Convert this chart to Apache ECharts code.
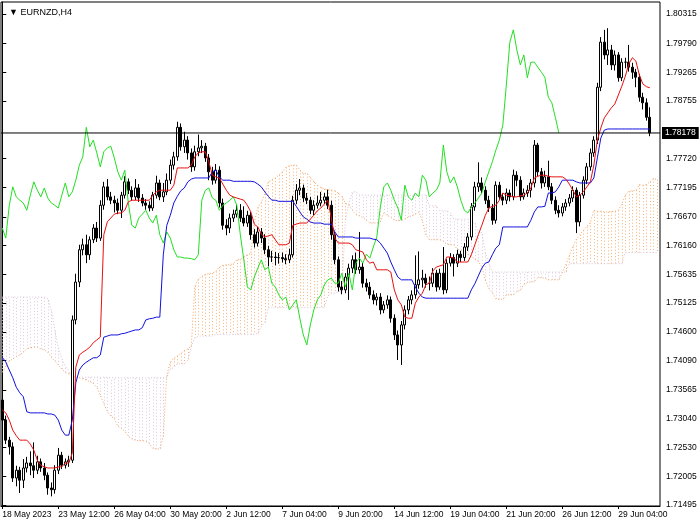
<!DOCTYPE html>
<html><head><meta charset="utf-8">
<script src="https://cdn.jsdelivr.net/npm/echarts@6/dist/echarts.min.js"></script>
<style>html,body{margin:0;padding:0;background:#fff}#c{width:700px;height:525px}</style>
</head><body><div id="c"></div>
<script>
const symbolTitle = '\u25BC EURNZD,H4';
const timeLabels = ['18 May 2023','23 May 12:00','26 May 04:00','30 May 20:00','2 Jun 12:00','7 Jun 04:00','9 Jun 20:00','14 Jun 12:00','19 Jun 04:00','21 Jun 20:00','26 Jun 12:00','29 Jun 04:00'];
const timeLabelBars = [0,16,32,48,64,80,96,112,128,144,160,176];
const priceTicks = [1.80315,1.79790,1.79265,1.78755,1.77720,1.77195,1.76670,1.76160,1.75635,1.75125,1.74600,1.74090,1.73565,1.73040,1.72530,1.72005,1.71495];
const currentPrice = 1.78178;

const opens = [
1.7338,1.7302,1.7266,1.7254,1.7198,1.7212,1.7194,1.7216,1.7225,1.7220,
1.7212,1.7227,1.7216,1.7203,1.7180,1.7177,1.7212,1.7239,1.7221,1.7227,
1.7230,1.7482,1.7550,1.7608,1.7617,1.7599,1.7626,1.7647,1.7629,1.7688,
1.7721,1.7703,1.7697,1.7692,1.7679,1.7706,1.7730,1.7715,1.7703,1.7719,
1.7701,1.7692,1.7688,1.7683,1.7706,1.7728,1.7703,1.7712,1.7733,1.7760,
1.7775,1.7828,1.7793,1.7805,1.7782,1.7757,1.7784,1.7791,1.7794,1.7773,
1.7748,1.7733,1.7751,1.7692,1.7652,1.7647,1.7665,1.7672,1.7679,1.7665,
1.7656,1.7670,1.7635,1.7620,1.7640,1.7629,1.7608,1.7595,1.7595,1.7594,
1.7594,1.7592,1.7590,1.7599,1.7697,1.7715,1.7719,1.7701,1.7697,1.7679,
1.7688,1.7692,1.7697,1.7703,1.7688,1.7635,1.7590,1.7541,1.7536,1.7559,
1.7575,1.7590,1.7572,1.7577,1.7548,1.7541,1.7527,1.7518,1.7523,1.7500,
1.7509,1.7518,1.7485,1.7455,1.7437,1.7473,1.7500,1.7518,1.7527,1.7545,
1.7554,1.7557,1.7548,1.7548,1.7566,1.7541,1.7566,1.7536,1.7584,1.7594,
1.7584,1.7600,1.7594,1.7613,1.7631,1.7685,1.7721,1.7728,1.7715,1.7697,
1.7683,1.7661,1.7724,1.7703,1.7697,1.7710,1.7703,1.7742,1.7733,1.7703,
1.7710,1.7715,1.7728,1.7796,1.7748,1.7728,1.7739,1.7721,1.7697,1.7679,
1.7674,1.7685,1.7692,1.7701,1.7715,1.7658,1.7706,1.7733,1.7757,1.7782,
1.7805,1.7900,1.7981,1.7958,1.7967,1.7940,1.7958,1.7917,1.7945,1.7945,
1.7936,1.7927,1.7918,1.7882,1.7872,1.7846];
const closes = [
1.7302,1.7266,1.7254,1.7198,1.7212,1.7194,1.7216,1.7225,1.7220,1.7212,
1.7227,1.7216,1.7203,1.7180,1.7177,1.7212,1.7239,1.7221,1.7227,1.7230,
1.7482,1.7550,1.7608,1.7617,1.7599,1.7626,1.7647,1.7629,1.7688,1.7721,
1.7703,1.7697,1.7692,1.7679,1.7706,1.7730,1.7715,1.7703,1.7719,1.7701,
1.7692,1.7688,1.7683,1.7706,1.7728,1.7703,1.7712,1.7733,1.7760,1.7775,
1.7828,1.7793,1.7805,1.7782,1.7757,1.7784,1.7791,1.7794,1.7773,1.7748,
1.7733,1.7751,1.7692,1.7652,1.7647,1.7665,1.7672,1.7679,1.7665,1.7656,
1.7670,1.7635,1.7620,1.7640,1.7629,1.7608,1.7595,1.7595,1.7594,1.7594,
1.7592,1.7590,1.7599,1.7697,1.7715,1.7719,1.7701,1.7697,1.7679,1.7688,
1.7692,1.7697,1.7703,1.7688,1.7635,1.7590,1.7541,1.7536,1.7559,1.7575,
1.7590,1.7572,1.7577,1.7548,1.7541,1.7527,1.7518,1.7523,1.7500,1.7509,
1.7518,1.7485,1.7455,1.7437,1.7473,1.7500,1.7518,1.7527,1.7545,1.7554,
1.7557,1.7548,1.7548,1.7566,1.7541,1.7566,1.7536,1.7584,1.7594,1.7584,
1.7600,1.7594,1.7613,1.7631,1.7685,1.7721,1.7728,1.7715,1.7697,1.7683,
1.7661,1.7724,1.7703,1.7697,1.7710,1.7703,1.7742,1.7733,1.7703,1.7710,
1.7715,1.7728,1.7796,1.7748,1.7728,1.7739,1.7721,1.7697,1.7679,1.7674,
1.7685,1.7692,1.7701,1.7715,1.7658,1.7706,1.7733,1.7757,1.7782,1.7805,
1.7900,1.7981,1.7958,1.7967,1.7940,1.7958,1.7917,1.7945,1.7945,1.7936,
1.7927,1.7918,1.7882,1.7872,1.7846,1.7818];
const highs = [
1.7343,1.7310,1.7272,1.7262,1.7220,1.7218,1.7232,1.7236,1.7246,1.7262,
1.7238,1.7233,1.7225,1.7208,1.7190,1.7221,1.7252,1.7245,1.7233,1.7238,
1.7490,1.7565,1.7617,1.7628,1.7635,1.7632,1.7654,1.7658,1.7697,1.7730,
1.7735,1.7712,1.7705,1.7700,1.7712,1.7740,1.7736,1.7722,1.7735,1.7726,
1.7708,1.7699,1.7695,1.7712,1.7741,1.7734,1.7728,1.7745,1.7770,1.7784,
1.7838,1.7835,1.7820,1.7812,1.7790,1.7795,1.7815,1.7805,1.7800,1.7780,
1.7757,1.7762,1.7758,1.7700,1.7663,1.7673,1.7680,1.7688,1.7690,1.7686,
1.7678,1.7676,1.7645,1.7649,1.7647,1.7636,1.7615,1.7606,1.7604,1.7602,
1.7603,1.7600,1.7610,1.7705,1.7726,1.7735,1.7725,1.7710,1.7703,1.7697,
1.7705,1.7712,1.7710,1.7716,1.7696,1.7640,1.7596,1.7552,1.7566,1.7583,
1.7598,1.7603,1.7640,1.7584,1.7556,1.7550,1.7535,1.7530,1.7530,1.7516,
1.7526,1.7524,1.7492,1.7463,1.7480,1.7508,1.7525,1.7535,1.7598,1.7605,
1.7572,1.7565,1.7560,1.7575,1.7572,1.7574,1.7613,1.7591,1.7602,1.7600,
1.7608,1.7606,1.7620,1.7638,1.7692,1.7730,1.7765,1.7738,1.7722,1.7705,
1.7690,1.7731,1.7730,1.7710,1.7718,1.7716,1.7752,1.7749,1.7740,1.7718,
1.7724,1.7735,1.7805,1.7800,1.7755,1.7750,1.7768,1.7728,1.7704,1.7688,
1.7692,1.7699,1.7708,1.7722,1.7720,1.7712,1.7740,1.7764,1.7790,1.7812,
1.7908,1.7990,1.8003,1.8006,1.7976,1.7966,1.7963,1.7952,1.7953,1.7976,
1.7944,1.7933,1.7924,1.7890,1.7880,1.7864];
const lows = [
1.7295,1.7259,1.7240,1.7191,1.7183,1.7171,1.7180,1.7208,1.7203,1.7198,
1.7205,1.7209,1.7194,1.7168,1.7165,1.7170,1.7205,1.7214,1.7215,1.7218,
1.7225,1.7474,1.7541,1.7598,1.7584,1.7590,1.7620,1.7622,1.7624,1.7680,
1.7697,1.7690,1.7675,1.7672,1.7665,1.7700,1.7708,1.7696,1.7697,1.7694,
1.7686,1.7680,1.7677,1.7678,1.7700,1.7697,1.7694,1.7706,1.7726,1.7752,
1.7768,1.7786,1.7782,1.7770,1.7748,1.7750,1.7776,1.7782,1.7766,1.7733,
1.7725,1.7727,1.7684,1.7644,1.7634,1.7638,1.7658,1.7666,1.7658,1.7650,
1.7649,1.7626,1.7612,1.7614,1.7620,1.7600,1.7578,1.7586,1.7580,1.7583,
1.7585,1.7582,1.7584,1.7594,1.7690,1.7706,1.7694,1.7690,1.7672,1.7670,
1.7682,1.7686,1.7690,1.7681,1.7626,1.7582,1.7533,1.7528,1.7530,1.7518,
1.7566,1.7565,1.7565,1.7540,1.7533,1.7520,1.7510,1.7508,1.7492,1.7494,
1.7502,1.7477,1.7446,1.7410,1.7401,1.7465,1.7492,1.7510,1.7520,1.7538,
1.7540,1.7540,1.7535,1.7541,1.7533,1.7536,1.7528,1.7530,1.7578,1.7560,
1.7577,1.7586,1.7588,1.7606,1.7625,1.7678,1.7712,1.7708,1.7690,1.7676,
1.7653,1.7655,1.7697,1.7688,1.7690,1.7695,1.7697,1.7722,1.7696,1.7698,
1.7703,1.7702,1.7720,1.7740,1.7718,1.7721,1.7715,1.7690,1.7672,1.7666,
1.7668,1.7678,1.7686,1.7694,1.7638,1.7650,1.7700,1.7726,1.7750,1.7775,
1.7798,1.7893,1.7950,1.7940,1.7931,1.7930,1.7910,1.7911,1.7934,1.7928,
1.7915,1.7900,1.7874,1.7860,1.7840,1.7812];
const tenkan = [
1.7320,1.7315,1.7302,1.7284,1.7274,1.7266,1.7266,1.7266,1.7259,1.7248,
1.7230,1.7221,1.7218,1.7216,1.7216,1.7216,1.7218,1.7218,1.7225,1.7225,
1.7243,1.7397,1.7419,1.7424,1.7428,1.7433,1.7441,1.7446,1.7451,1.7635,
1.7658,1.7665,1.7672,1.7674,1.7674,1.7679,1.7694,1.7697,1.7697,1.7697,
1.7697,1.7697,1.7697,1.7706,1.7712,1.7715,1.7715,1.7715,1.7715,1.7724,
1.7755,1.7755,1.7755,1.7755,1.7760,1.7775,1.7782,1.7784,1.7784,1.7766,
1.7742,1.7739,1.7737,1.7726,1.7715,1.7706,1.7703,1.7701,1.7699,1.7697,
1.7688,1.7676,1.7654,1.7649,1.7636,1.7631,1.7633,1.7635,1.7626,1.7617,
1.7617,1.7617,1.7620,1.7652,1.7654,1.7656,1.7656,1.7656,1.7663,1.7670,
1.7678,1.7683,1.7690,1.7697,1.7665,1.7629,1.7620,1.7620,1.7620,1.7620,
1.7617,1.7608,1.7606,1.7604,1.7590,1.7584,1.7586,1.7572,1.7572,1.7572,
1.7572,1.7568,1.7536,1.7518,1.7509,1.7487,1.7485,1.7485,1.7512,1.7523,
1.7530,1.7545,1.7548,1.7570,1.7577,1.7579,1.7581,1.7595,1.7595,1.7593,
1.7586,1.7586,1.7586,1.7586,1.7599,1.7617,1.7635,1.7652,1.7670,1.7683,
1.7686,1.7688,1.7697,1.7710,1.7706,1.7705,1.7703,1.7703,1.7705,1.7706,
1.7710,1.7719,1.7737,1.7740,1.7742,1.7742,1.7740,1.7739,1.7739,1.7739,
1.7739,1.7735,1.7726,1.7715,1.7703,1.7706,1.7712,1.7721,1.7730,1.7760,
1.7805,1.7827,1.7845,1.7854,1.7863,1.7870,1.7886,1.7902,1.7920,1.7942,
1.7953,1.7947,1.7922,1.7906,1.7901,1.7899];
const kijun = [
1.7415,1.7406,1.7392,1.7378,1.7361,1.7351,1.7344,1.7317,1.7315,1.7315,
1.7315,1.7315,1.7315,1.7313,1.7313,1.7311,1.7302,1.7284,1.7275,1.7275,
1.7302,1.7369,1.7392,1.7401,1.7406,1.7410,1.7414,1.7414,1.7419,1.7451,
1.7453,1.7455,1.7455,1.7455,1.7457,1.7458,1.7460,1.7462,1.7464,1.7464,
1.7468,1.7482,1.7484,1.7485,1.7487,1.7487,1.7599,1.7652,1.7670,1.7692,
1.7704,1.7714,1.7719,1.7730,1.7735,1.7737,1.7737,1.7737,1.7737,1.7737,
1.7748,1.7751,1.7739,1.7733,1.7733,1.7733,1.7731,1.7731,1.7731,1.7731,
1.7731,1.7731,1.7730,1.7726,1.7721,1.7712,1.7704,1.7697,1.7697,1.7695,
1.7695,1.7695,1.7695,1.7695,1.7686,1.7676,1.7667,1.7663,1.7658,1.7656,
1.7656,1.7656,1.7654,1.7654,1.7654,1.7640,1.7631,1.7631,1.7631,1.7631,
1.7631,1.7629,1.7629,1.7629,1.7629,1.7629,1.7627,1.7626,1.7620,1.7611,
1.7602,1.7586,1.7572,1.7559,1.7554,1.7554,1.7554,1.7554,1.7541,1.7530,
1.7523,1.7521,1.7521,1.7521,1.7521,1.7521,1.7521,1.7521,1.7521,1.7521,
1.7521,1.7521,1.7521,1.7521,1.7536,1.7547,1.7561,1.7575,1.7584,1.7586,
1.7599,1.7611,1.7617,1.7649,1.7649,1.7649,1.7649,1.7649,1.7649,1.7649,
1.7649,1.7661,1.7676,1.7685,1.7685,1.7686,1.7710,1.7710,1.7712,1.7721,
1.7733,1.7733,1.7733,1.7733,1.7730,1.7728,1.7728,1.7728,1.7728,1.7737,
1.7773,1.7809,1.7823,1.7825,1.7825,1.7825,1.7825,1.7825,1.7825,1.7825,
1.7825,1.7825,1.7825,1.7825,1.7825,1.7825];
const chikou = [
1.7647,1.7629,1.7688,1.7721,1.7703,1.7697,1.7692,1.7679,1.7706,1.7730,
1.7715,1.7703,1.7719,1.7701,1.7692,1.7688,1.7683,1.7706,1.7728,1.7703,
1.7712,1.7733,1.7760,1.7775,1.7828,1.7793,1.7805,1.7782,1.7757,1.7784,
1.7791,1.7794,1.7773,1.7748,1.7733,1.7751,1.7692,1.7652,1.7647,1.7665,
1.7672,1.7679,1.7665,1.7656,1.7670,1.7635,1.7620,1.7640,1.7629,1.7608,
1.7595,1.7595,1.7593,1.7593,1.7592,1.7590,1.7599,1.7697,1.7715,1.7719,
1.7701,1.7697,1.7679,1.7688,1.7692,1.7697,1.7703,1.7688,1.7635,1.7590,
1.7541,1.7536,1.7559,1.7575,1.7590,1.7572,1.7577,1.7548,1.7541,1.7527,
1.7518,1.7523,1.7500,1.7509,1.7518,1.7485,1.7455,1.7437,1.7473,1.7500,
1.7518,1.7527,1.7545,1.7554,1.7557,1.7548,1.7548,1.7566,1.7541,1.7566,
1.7536,1.7584,1.7593,1.7584,1.7600,1.7593,1.7613,1.7631,1.7685,1.7721,
1.7728,1.7715,1.7697,1.7683,1.7661,1.7724,1.7703,1.7697,1.7710,1.7703,
1.7742,1.7733,1.7703,1.7710,1.7715,1.7728,1.7796,1.7748,1.7728,1.7739,
1.7721,1.7697,1.7679,1.7674,1.7685,1.7692,1.7701,1.7710,1.7730,1.7748,
1.7766,1.7787,1.7805,1.7832,1.7904,1.7981,1.8003,1.7967,1.7940,1.7958,
1.7917,1.7945,1.7945,1.7936,1.7927,1.7918,1.7882,1.7872,1.7846,1.7818];
const spanA = [
1.7388,1.7399,1.7408,1.7412,1.7416,1.7419,1.7424,1.7430,1.7432,1.7433,
1.7433,1.7430,1.7428,1.7424,1.7415,1.7408,1.7401,1.7394,1.7388,1.7385,
1.7381,1.7379,1.7378,1.7376,1.7374,1.7371,1.7368,1.7361,1.7347,1.7331,
1.7318,1.7309,1.7305,1.7291,1.7287,1.7282,1.7273,1.7268,1.7266,1.7265,
1.7265,1.7264,1.7260,1.7251,1.7250,1.7250,1.7273,1.7383,1.7406,1.7413,
1.7417,1.7422,1.7427,1.7430,1.7435,1.7543,1.7555,1.7560,1.7564,1.7565,
1.7566,1.7569,1.7577,1.7580,1.7581,1.7581,1.7583,1.7590,1.7591,1.7596,
1.7599,1.7601,1.7657,1.7684,1.7693,1.7708,1.7730,1.7734,1.7737,1.7742,
1.7748,1.7756,1.7759,1.7760,1.7760,1.7751,1.7745,1.7745,1.7738,1.7730,
1.7724,1.7720,1.7717,1.7716,1.7715,1.7714,1.7710,1.7704,1.7692,1.7688,
1.7679,1.7671,1.7669,1.7666,1.7661,1.7656,1.7656,1.7656,1.7658,1.7674,
1.7670,1.7666,1.7661,1.7660,1.7661,1.7663,1.7667,1.7669,1.7672,1.7676,
1.7660,1.7635,1.7626,1.7626,1.7626,1.7626,1.7623,1.7618,1.7617,1.7617,
1.7609,1.7607,1.7607,1.7599,1.7596,1.7591,1.7587,1.7577,1.7554,1.7538,
1.7531,1.7520,1.7519,1.7519,1.7527,1.7527,1.7527,1.7533,1.7535,1.7546,
1.7549,1.7550,1.7551,1.7558,1.7558,1.7557,1.7554,1.7554,1.7554,1.7554,
1.7567,1.7581,1.7598,1.7614,1.7627,1.7635,1.7643,1.7650,1.7657,1.7679,
1.7677,1.7677,1.7676,1.7676,1.7677,1.7677,1.7679,1.7690,1.7706,1.7713,
1.7714,1.7715,1.7725,1.7724,1.7725,1.7730,1.7736,1.7734];
const spanB = [
1.7523,1.7523,1.7523,1.7523,1.7523,1.7523,1.7523,1.7523,1.7523,1.7523,
1.7523,1.7523,1.7523,1.7520,1.7500,1.7464,1.7432,1.7412,1.7399,1.7390,
1.7381,1.7379,1.7379,1.7379,1.7379,1.7379,1.7379,1.7379,1.7379,1.7379,
1.7379,1.7378,1.7378,1.7378,1.7378,1.7378,1.7378,1.7378,1.7378,1.7378,
1.7378,1.7378,1.7378,1.7378,1.7378,1.7378,1.7378,1.7378,1.7394,1.7396,
1.7403,1.7403,1.7403,1.7410,1.7434,1.7450,1.7453,1.7453,1.7453,1.7453,
1.7453,1.7456,1.7456,1.7456,1.7456,1.7456,1.7456,1.7456,1.7456,1.7456,
1.7456,1.7456,1.7456,1.7458,1.7470,1.7477,1.7504,1.7504,1.7504,1.7504,
1.7504,1.7504,1.7504,1.7504,1.7504,1.7504,1.7504,1.7504,1.7504,1.7504,
1.7504,1.7504,1.7504,1.7525,1.7530,1.7530,1.7532,1.7532,1.7660,1.7691,
1.7712,1.7712,1.7707,1.7706,1.7706,1.7706,1.7706,1.7706,1.7706,1.7706,
1.7706,1.7706,1.7706,1.7706,1.7706,1.7706,1.7706,1.7706,1.7706,1.7706,
1.7706,1.7706,1.7687,1.7687,1.7687,1.7678,1.7678,1.7678,1.7674,1.7663,
1.7663,1.7663,1.7663,1.7663,1.7659,1.7656,1.7639,1.7639,1.7603,1.7583,
1.7568,1.7568,1.7568,1.7568,1.7568,1.7568,1.7568,1.7568,1.7568,1.7568,
1.7568,1.7568,1.7568,1.7568,1.7568,1.7568,1.7568,1.7568,1.7568,1.7568,
1.7568,1.7568,1.7583,1.7583,1.7583,1.7583,1.7583,1.7583,1.7583,1.7583,
1.7583,1.7583,1.7583,1.7583,1.7583,1.7583,1.7583,1.7583,1.7603,1.7603,
1.7603,1.7603,1.7603,1.7603,1.7603,1.7603,1.7603,1.7603];

const FONT = 'Liberation Sans, Arial, sans-serif';
const SANDY = '#f4a460', THISTLE = '#d8bfd8';
const X_MIN = -0.37, X_MAX = 187.9;
const chart = echarts.init(document.getElementById('c'), null, {renderer: 'canvas'});
const candleData = closes.map((c, i) => [i, opens[i], c, lows[i], highs[i]]);
const toXY = arr => arr.map((v, i) => [i, v]);
const cloudData = spanA.map((a, i) => [i, a, spanB[i]]);

chart.setOption({
  animation: false,
  backgroundColor: '#fff',
  title: {text: symbolTitle, left: 4, top: 3, textStyle: {fontSize: 9, fontWeight: 'normal', color: '#000', fontFamily: FONT}},
  grid: {left: 1, right: 40, top: 2, bottom: 19, show: true, borderColor: '#000', borderWidth: 1, backgroundColor: '#fff', containLabel: false, outerBoundsMode: 'none'},
  xAxis: {
    type: 'value', min: X_MIN, max: X_MAX,
    splitLine: {show: false},
    axisLine: {show: true, lineStyle: {color: '#000', width: 1}},
    axisTick: {show: true, length: 3, customValues: timeLabelBars, lineStyle: {color: '#000'}},
    axisLabel: {customValues: timeLabelBars, formatter: v => timeLabels[timeLabelBars.indexOf(Math.round(v))] || '',
      align: 'left', fontSize: 8.5, color: '#000', margin: 4, fontFamily: FONT}
  },
  yAxis: {
    type: 'value', position: 'right', min: 1.71477, max: 1.80531,
    splitLine: {show: false},
    axisLine: {show: true, lineStyle: {color: '#000', width: 1}},
    axisTick: {show: true, length: 4, customValues: priceTicks, lineStyle: {color: '#000'}},
    axisLabel: {customValues: priceTicks, formatter: v => v.toFixed(5), fontSize: 8.5, color: '#000', margin: 6, fontFamily: FONT}
  },
  series: [
    {
      type: 'custom', name: 'kumo', z: 1, silent: true, clip: true,
      data: cloudData, encode: {x: 0, y: [1, 2]},
      renderItem(params, api) {
        const x = api.value(0), a = api.value(1), b = api.value(2);
        const p1 = api.coord([x, a]), p2 = api.coord([x, b]);
        const px = Math.round(p1[0]) + 0.5;
        return {type: 'line', shape: {x1: px, y1: p1[1], x2: px, y2: p2[1]},
          style: {stroke: a >= b ? SANDY : THISTLE, lineWidth: 1, lineDash: [1, 2.2], opacity: 0.85}};
      }
    },
    {type: 'line', name: 'Senkou A', data: toXY(spanA), symbol: 'none', z: 2, silent: true,
      lineStyle: {color: SANDY, width: 1, type: [1, 2]}},
    {type: 'line', name: 'Senkou B', data: toXY(spanB), symbol: 'none', z: 2, silent: true,
      lineStyle: {color: THISTLE, width: 1, type: [1, 2]}},
    {
      type: 'candlestick', name: 'EURNZD', z: 3,
      data: candleData, encode: {x: 0, y: [1, 2, 3, 4]}, barWidth: 2.8,
      itemStyle: {color: '#ffffff', color0: '#000000', borderColor: '#000000', borderColor0: '#000000', borderWidth: 1}
    },
    {type: 'line', name: 'Chikou', data: toXY(chikou), symbol: 'none', z: 4, silent: true,
      lineStyle: {color: '#22e022', width: 1}},
    {type: 'line', name: 'Kijun', data: toXY(kijun), symbol: 'none', z: 4, silent: true,
      lineStyle: {color: '#1010e0', width: 1}},
    {type: 'line', name: 'Tenkan', data: toXY(tenkan), symbol: 'none', z: 4, silent: true,
      lineStyle: {color: '#e81010', width: 1}},
    {type: 'line', name: 'Bid', data: [[X_MIN, currentPrice], [X_MAX, currentPrice]], symbol: 'none', z: 5, silent: true,
      clip: false,
      lineStyle: {color: '#000', width: 1},
      endLabel: {show: true, formatter: currentPrice.toFixed(5), distance: 2,
        color: '#fff', backgroundColor: '#000', padding: [2, 3, 1, 3], fontSize: 8.5, fontFamily: FONT}}
  ]
});
</script></body></html>
